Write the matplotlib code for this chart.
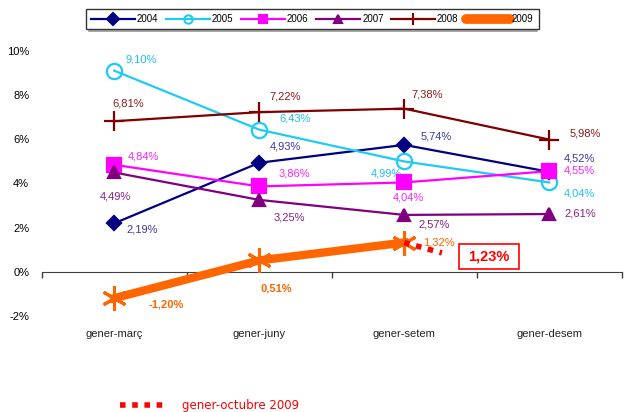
import numpy as np
import matplotlib
matplotlib.use('Agg')
import matplotlib.pyplot as plt
from matplotlib.lines import Line2D
from matplotlib.patches import Rectangle

plt.rcParams['font.family'] = ['Liberation Sans', 'DejaVu Sans']

categories = ['gener-març', 'gener-juny', 'gener-setem', 'gener-desem']
years = ['2004', '2005', '2006', '2007', '2008', '2009']
v2004 = [2.19, 4.93, 5.74, 4.52]
v2005 = [9.10, 6.43, 4.99, 4.04]
v2006 = [4.84, 3.86, 4.04, 4.55]
v2007 = [4.49, 3.25, 2.57, 2.61]
v2008 = [6.81, 7.22, 7.38, 5.98]
v2009 = [-1.20, 0.51, 1.32]
oct2009 = 1.23
oct_end = 0.85  # end of dotted stub

series = [v2004, v2005, v2006, v2007, v2008, v2009]
colors = ['#000080', '#1ECBF5', '#FF00FF', '#800080', '#800000', '#FF6600']
label_colors = ['#3A3AA0', '#1EC0EE', '#FF22FF', '#862088', '#8B1A1A', '#FF6600']
markers = ['D', 'o', 's', '^', '+', (6, 2, 0)]
msizes = [7, 11, 10, 9, 15, 18]
lws = [1.6, 1.6, 1.6, 1.6, 1.6, 6]

# label offsets in pixels (dx, dy up), alignment
offsets = [
    [(12, -6, 'left'), (11, 16, 'left'), (16, 8, 'left'), (15, 13, 'left')],
    [(11, 11, 'left'), (20, 11, 'left'), (-2, -12, 'right'), (15, -11, 'left')],
    [(14, 8, 'left'), (19, 13, 'left'), (4, -15, 'center'), (15, 1, 'left')],
    [(1, -24, 'center'), (14, -18, 'left'), (14, -10, 'left'), (15, 1, 'left')],
    [(-2, 18, 'left'), (10, 16, 'left'), (7, 14, 'left'), (20, 6, 'left')],
    [(34, -6, 'left'), (1, -28, 'left'), (19, 0, 'left')],
]

fig = plt.figure(figsize=(6.27, 4.12), dpi=100)
ax = fig.add_axes([41.7 / 627, 96.1 / 412, 580 / 627, 0.6436])

x = np.arange(len(categories))
for i, vals in enumerate(series):
    xs = x[:len(vals)]
    mfc = 'none' if markers[i] == 'o' else colors[i]
    mew = 2.2 if i == 5 else 1.6
    ax.plot(xs, vals, color=colors[i], lw=lws[i], marker=markers[i],
            markersize=msizes[i], mfc=mfc, mec=colors[i], mew=mew,
            zorder=3 if i < 5 else 4, clip_on=False)
    for j, v in enumerate(vals):
        dx, dy, ha = offsets[i][j]
        weight = 'bold' if (i == 5 and j < 2) else 'normal'
        ax.annotate(f'{v:.2f}%'.replace('.', ','), (xs[j], v),
                    xytext=(dx * 0.72, dy * 0.72), textcoords='offset points',
                    ha=ha, va='center', fontsize=8, color=label_colors[i],
                    fontweight=weight, annotation_clip=False)

# dotted stub toward gener-octubre 2009
ax.plot([2, 2.26], [v2009[-1], oct_end], color='#FF0000', lw=4,
        linestyle=(0, (1, 1.2)), dash_capstyle='butt', zorder=5)

ax.set_xlim(-0.5, 3.5)
ax.set_ylim(-2, 10)
ax.set_yticks(np.arange(-2, 11, 2))
ax.set_yticklabels([f'{t}%' for t in range(-2, 11, 2)])
ax.tick_params(axis='y', length=0, pad=9, labelsize=8)
ax.set_xticks(np.arange(-0.5, 3.6, 1))
ax.set_xticklabels([])
ax.tick_params(axis='x', length=4, color='#404040', width=1)
for s in ['top', 'right', 'left']:
    ax.spines[s].set_visible(False)
ax.spines['bottom'].set_position(('data', 0))
ax.spines['bottom'].set_color('#404040')
ax.patch.set_alpha(0)

for i, c in enumerate(categories):
    ax.text(i, -2.82, c, ha='center', va='center', fontsize=8, color='#222222')

# 1,23% box
fig.add_artist(Rectangle((459 / 627, 1 - 269 / 412), 60 / 627, 25 / 412,
                         transform=fig.transFigure, fill=False, ec='#FF0000', lw=1.2))
fig.text(489 / 627, 1 - 256.5 / 412, f'{oct2009:.2f}%'.replace('.', ','),
         ha='center', va='center', fontsize=10.5, fontweight='bold', color='#FF0000')

# legend
handles = []
for i in range(6):
    if i == 5:
        handles.append(Line2D([], [], color=colors[i], lw=7, solid_capstyle='round'))
    else:
        mfc = 'none' if markers[i] == 'o' else colors[i]
        handles.append(Line2D([], [], color=colors[i], lw=1.6, marker=markers[i],
                              markersize=6 if i != 4 else 9, mfc=mfc, mec=colors[i], mew=1.5))
leg = fig.legend(handles, years, loc='center', bbox_to_anchor=(312.5 / 627, 1 - 19 / 412),
                 ncol=6, fontsize=7, frameon=True, fancybox=False, edgecolor='black',
                 handlelength=4.5, handletextpad=0.2, columnspacing=0.8,
                 borderpad=0.5, borderaxespad=0)
leg.get_frame().set_linewidth(1)
fig.add_artist(Line2D([89 / 627, 537 / 627], [1 - 30.5 / 412, 1 - 30.5 / 412],
                      transform=fig.transFigure, color='#999999', lw=1.2))

# footer note
fig.add_artist(Line2D([120 / 627, 166 / 627], [1 - 405 / 412, 1 - 405 / 412],
                      transform=fig.transFigure, color='#FF0000', lw=4,
                      linestyle=(0, (1, 1.2)), dash_capstyle='butt'))
fig.text(182 / 627, 1 - 406 / 412, 'gener-octubre 2009', fontsize=8.5,
         family='DejaVu Sans', color='#FF0000', ha='left', va='center')

fig.savefig('out.png', dpi=100)
